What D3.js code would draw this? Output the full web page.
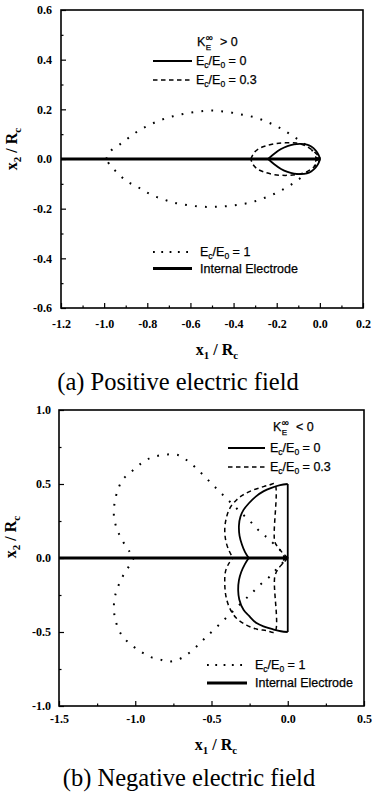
<!DOCTYPE html>
<html>
<head>
<meta charset="utf-8">
<script src="https://cdn.jsdelivr.net/npm/d3@7"></script>
<style>
body { margin: 0; background: #fff; }
svg { display: block; }
.tick line { stroke: #000; stroke-width: 1.2; }
.leg { font-family: "Liberation Sans", Arial, sans-serif; font-size: 12.5px; fill: #000; stroke: #000; stroke-width: 0.25; white-space: pre; }
.ttl { font-family: "Liberation Serif", "Times New Roman", serif; font-weight: bold; font-size: 16px; fill: #000; white-space: pre; }
.cap { font-family: "Liberation Serif", "Times New Roman", serif; font-size: 24.5px; fill: #000; }
</style>
</head>
<body>
<div id="chart"></div>
<script>
// ---- axis ticks ----
const xTicksA = [-1.2, -1.0, -0.8, -0.6, -0.4, -0.2, 0.0, 0.2];
const xMinorA = [-1.1, -0.9, -0.7, -0.5, -0.3, -0.1, 0.1];
const yTicksA = [-0.6, -0.4, -0.2, 0.0, 0.2, 0.4, 0.6];
const yMinorA = [-0.5, -0.3, -0.1, 0.1, 0.3, 0.5];
const xTicksB = [-1.5, -1.0, -0.5, 0.0, 0.5];
const xMinorB = [-1.25, -0.75, -0.25, 0.25];
const yTicksB = [-1.0, -0.5, 0.0, 0.5, 1.0];
const yMinorB = [-0.75, -0.25, 0.25, 0.75];

// ---- (a) positive field, K > 0 ----
const electrodeA = [[-1.2, 0], [0, 0]];
const posSolid = [[-0.24, 0], [-0.21, 0.022], [-0.18, 0.04], [-0.15, 0.052], [-0.12, 0.059], [-0.09, 0.061],
  [-0.06, 0.058], [-0.04, 0.05], [-0.02, 0.035], [-0.006, 0.017], [0, 0], [-0.006, -0.017], [-0.02, -0.035],
  [-0.04, -0.05], [-0.06, -0.058], [-0.09, -0.061], [-0.12, -0.059], [-0.15, -0.052], [-0.18, -0.04],
  [-0.21, -0.022], [-0.24, 0]];
const posDashed = [[-0.32, 0], [-0.305, 0.025], [-0.28, 0.043], [-0.25, 0.053], [-0.21, 0.061], [-0.16, 0.065],
  [-0.11, 0.064], [-0.075, 0.056], [-0.045, 0.042], [-0.02, 0.024], [0, 0], [-0.02, -0.026], [-0.04, -0.04],
  [-0.07, -0.055], [-0.11, -0.063], [-0.16, -0.066], [-0.21, -0.063], [-0.26, -0.052], [-0.29, -0.04],
  [-0.31, -0.022], [-0.32, 0]];
const posDotted = [[-0.99, 0], [-0.974, 0.029], [-0.927, 0.059], [-0.884, 0.087], [-0.842, 0.113], [-0.8, 0.133],
  [-0.757, 0.15], [-0.714, 0.164], [-0.672, 0.174], [-0.63, 0.182], [-0.587, 0.188], [-0.541, 0.193],
  [-0.502, 0.195], [-0.464, 0.193], [-0.417, 0.188], [-0.375, 0.181], [-0.332, 0.174], [-0.289, 0.164],
  [-0.247, 0.15], [-0.205, 0.134], [-0.162, 0.113], [-0.121, 0.09], [-0.08, 0.066], [-0.04, 0.038], [0, 0],
  [-0.04, -0.04], [-0.08, -0.07], [-0.124, -0.098], [-0.17, -0.122], [-0.21, -0.14], [-0.255, -0.156],
  [-0.3, -0.17], [-0.343, -0.179], [-0.386, -0.185], [-0.43, -0.19], [-0.47, -0.192], [-0.51, -0.193],
  [-0.552, -0.192], [-0.595, -0.188], [-0.638, -0.182], [-0.68, -0.175], [-0.72, -0.164], [-0.765, -0.15],
  [-0.807, -0.132], [-0.85, -0.11], [-0.896, -0.089], [-0.935, -0.058], [-0.974, -0.024], [-0.99, 0]];

// ---- (b) negative field, K < 0 ----
const electrodeB = [[-1.5, 0], [0, 0]];
const negSolidUpper = [[-0.256, 0], [-0.28, 0.04], [-0.3, 0.09], [-0.316, 0.15], [-0.32, 0.22], [-0.31, 0.28],
  [-0.29, 0.325], [-0.255, 0.37], [-0.21, 0.415], [-0.16, 0.45], [-0.107, 0.474], [-0.05, 0.492], [0, 0.5]];
const negSolidLower = [[-0.256, 0], [-0.28, -0.04], [-0.305, -0.095], [-0.32, -0.15], [-0.325, -0.22],
  [-0.318, -0.28], [-0.29, -0.35], [-0.255, -0.39], [-0.205, -0.44], [-0.15, -0.465], [-0.096, -0.482],
  [-0.045, -0.495], [0, -0.5]];
const negSolidEdge = [[0, 0.5], [0, -0.5]];
const negDashedUpper = [[0, 0], [-0.03, 0.03], [-0.06, 0.068], [-0.085, 0.11], [-0.085, 0.5], [-0.118, 0.495],
  [-0.172, 0.478], [-0.238, 0.455], [-0.293, 0.426], [-0.336, 0.392], [-0.38, 0.336], [-0.405, 0.26],
  [-0.413, 0.19], [-0.405, 0.11], [-0.385, 0.05], [-0.36, 0]];
const negDashedLower = [[0, 0], [-0.03, -0.035], [-0.06, -0.07], [-0.085, -0.126], [-0.085, -0.5], [-0.14, -0.49],
  [-0.205, -0.48], [-0.271, -0.453], [-0.336, -0.407], [-0.38, -0.34], [-0.405, -0.26], [-0.413, -0.17],
  [-0.408, -0.09], [-0.385, -0.035], [-0.36, 0]];
const negDottedUpper = [[0, 0], [-0.118, 0.122], [-0.184, 0.18], [-0.238, 0.239], [-0.3, 0.3], [-0.36, 0.36],
  [-0.413, 0.414], [-0.468, 0.47], [-0.533, 0.538], [-0.599, 0.606], [-0.664, 0.662], [-0.72, 0.696],
  [-0.785, 0.7], [-0.85, 0.691], [-0.905, 0.674], [-0.96, 0.64], [-1.025, 0.583], [-1.08, 0.532],
  [-1.113, 0.464], [-1.134, 0.38], [-1.141, 0.313], [-1.134, 0.245], [-1.113, 0.178], [-1.08, 0.11],
  [-1.04, 0.047], [-1.01, 0]];
const negDottedLower = [[-1.01, 0], [-1.04, -0.054], [-1.08, -0.12], [-1.115, -0.2], [-1.135, -0.27],
  [-1.14, -0.34], [-1.13, -0.42], [-1.09, -0.52], [-1.025, -0.588], [-0.96, -0.635], [-0.905, -0.667],
  [-0.84, -0.685], [-0.785, -0.7], [-0.726, -0.689], [-0.664, -0.655], [-0.6, -0.6], [-0.544, -0.543],
  [-0.48, -0.48], [-0.41, -0.41], [-0.35, -0.35], [-0.29, -0.29], [-0.238, -0.239], [-0.18, -0.18],
  [-0.118, -0.126], [-0.06, -0.06], [0, 0]];

const styles = {
  solid: { w: 1.8, dash: null },
  dashed: { w: 1.5, dash: '4.5,3.5' },
  dotted: { w: 2, dash: '1.8,8.2' },
  electrode: { w: 3.2, dash: null }
};

const svg = d3.select('#chart').append('svg').attr('width', 373).attr('height', 795);

svg.append('defs').append('marker')
  .attr('id', 'arr').attr('viewBox', '0 0 10 10').attr('refX', 8).attr('refY', 5)
  .attr('markerUnits', 'userSpaceOnUse').attr('markerWidth', 7).attr('markerHeight', 6)
  .attr('orient', 'auto')
  .append('path').attr('d', 'M0,0L10,5L0,10z').attr('fill', '#000');

function rich(g, x, y, parts, size, cls) {
  const t = g.append('text').attr('class', cls).attr('x', x).attr('y', y);
  let shift = 0;
  parts.forEach(([s, sub]) => {
    const target = sub ? size * 0.25 : 0;
    t.append('tspan').attr('dy', target - shift).style('font-size', (sub ? size * 0.68 : size) + 'px').text(s);
    shift = target;
  });
  return t;
}

function kLabel(g, x, y, rest) {
  const k = g.append('text').attr('class', 'leg').attr('x', x).attr('y', y).text('K');
  const w = k.node().getComputedTextLength();
  g.append('text').attr('class', 'leg').attr('x', x + w + 0.5).attr('y', y + 3.5).style('font-size', '8px').text('E');
  g.append('text').attr('class', 'leg').attr('x', x + w + 0.5).attr('y', y - 5).style('font-size', '10px').text('∞');
  g.append('text').attr('class', 'leg').attr('x', x + 23).attr('y', y).text(rest);
}

function drawPanel(p) {
  const x = d3.scaleLinear().domain(p.xDomain).range([p.l, p.r]);
  const y = d3.scaleLinear().domain(p.yDomain).range([p.b, p.t]);
  const g = svg.append('g');

  // minor ticks
  g.append('g').attr('transform', `translate(0,${p.b})`)
    .call(d3.axisBottom(x).tickValues(p.xMinor).tickSize(-2.5).tickSizeOuter(0).tickFormat(''))
    .call(a => a.select('.domain').remove());
  g.append('g').attr('transform', `translate(${p.l},0)`)
    .call(d3.axisLeft(y).tickValues(p.yMinor).tickSize(-2.5).tickSizeOuter(0).tickFormat(''))
    .call(a => a.select('.domain').remove());
  // major ticks
  const xa = g.append('g').attr('transform', `translate(0,${p.b})`)
    .call(d3.axisBottom(x).tickValues(p.xTicks).tickSize(-5).tickSizeOuter(0).tickPadding(p.xPad)
      .tickFormat(d => d.toFixed(1)))
    .call(a => a.select('.domain').remove());
  const ya = g.append('g').attr('transform', `translate(${p.l},0)`)
    .call(d3.axisLeft(y).tickValues(p.yTicks).tickSize(-5).tickSizeOuter(0).tickPadding(p.yPad)
      .tickFormat(d => d.toFixed(1)))
    .call(a => a.select('.domain').remove());
  [xa, ya].forEach(a => a.selectAll('text')
    .style('font-family', '"Liberation Serif", "Times New Roman", serif')
    .style('font-weight', 'bold').style('font-size', '12px').attr('fill', '#000'));

  g.append('rect').attr('x', p.l).attr('y', p.t).attr('width', p.r - p.l).attr('height', p.b - p.t)
    .attr('fill', 'none').attr('stroke', '#000').attr('stroke-width', 1.6);

  const line = d3.line().x(d => x(d[0])).y(d => y(d[1])).curve(d3.curveCatmullRom.alpha(0.5));
  const straight = d3.line().x(d => x(d[0])).y(d => y(d[1]));
  p.curves.forEach(c => {
    const s = styles[c.style];
    const path = g.append('path').datum(c.data).attr('d', c.style === 'electrode' ? straight : line)
      .attr('fill', 'none').attr('stroke', '#000').attr('stroke-width', s.w)
      .attr('stroke-dasharray', s.dash).attr('stroke-linejoin', 'round');
    if (c.style === 'electrode') path.attr('marker-end', 'url(#arr)');
  });

  // legend
  kLabel(g, p.kx, p.ky, p.sign + ' 0');
  p.legend.forEach(it => {
    const s = styles[it.style];
    g.append('line').attr('x1', it.x1).attr('x2', it.x2).attr('y1', it.y).attr('y2', it.y)
      .attr('stroke', '#000').attr('stroke-width', s.w).attr('stroke-dasharray', it.style === 'dotted' ? '1.8,6.5' : s.dash);
    if (it.label === 'Internal Electrode') {
      g.append('text').attr('class', 'leg').attr('x', it.tx).attr('y', it.y + 4.3).text(it.label);
    } else {
      rich(g, it.tx, it.y + 4.3, [['E', 0], ['c', 1], ['/E', 0], ['0', 1], [' = ' + it.label, 0]], 12.5, 'leg');
    }
  });

  // axis titles and caption
  rich(g, p.xtx, p.xty, [['x', 0], ['1', 1], [' / R', 0], ['c', 1]], 16, 'ttl').attr('text-anchor', 'middle');
  rich(g, 0, 0, [['x', 0], ['2', 1], [' / R', 0], ['c', 1]], 16, 'ttl').attr('text-anchor', 'middle')
    .attr('transform', `translate(${p.ytx},${p.yty}) rotate(-90)`);
  g.append('text').attr('class', 'cap').attr('x', p.capx).attr('y', p.capy).attr('text-anchor', 'middle').text(p.caption);
}

drawPanel({
  xDomain: [-1.2, 0.2], yDomain: [-0.6, 0.6], l: 61, r: 363, t: 10, b: 308,
  xTicks: xTicksA, xMinor: xMinorA, yTicks: yTicksA, yMinor: yMinorA, xPad: 11, yPad: 9,
  curves: [
    { data: posDotted, style: 'dotted' },
    { data: posDashed, style: 'dashed' },
    { data: posSolid, style: 'solid' },
    { data: electrodeA, style: 'electrode' }
  ],
  kx: 197, ky: 46, sign: '>',
  legend: [
    { style: 'solid', x1: 153, x2: 192, y: 61, tx: 196, label: '0' },
    { style: 'dashed', x1: 153, x2: 192, y: 80, tx: 196, label: '0.3' },
    { style: 'dotted', x1: 153, x2: 192, y: 252, tx: 200, label: '1' },
    { style: 'electrode', x1: 153, x2: 192, y: 268.5, tx: 200, label: 'Internal Electrode' }
  ],
  xtx: 217, xty: 355, ytx: 17, yty: 149,
  capx: 178, capy: 390, caption: '(a) Positive electric field'
});

drawPanel({
  xDomain: [-1.5, 0.5], yDomain: [-1.0, 1.0], l: 59, r: 364, t: 410, b: 706,
  xTicks: xTicksB, xMinor: xMinorB, yTicks: yTicksB, yMinor: yMinorB, xPad: 8, yPad: 8,
  curves: [
    { data: negDottedUpper, style: 'dotted' },
    { data: negDottedLower, style: 'dotted' },
    { data: negDashedUpper, style: 'dashed' },
    { data: negDashedLower, style: 'dashed' },
    { data: negSolidUpper, style: 'solid' },
    { data: negSolidLower, style: 'solid' },
    { data: negSolidEdge, style: 'solid' },
    { data: electrodeB, style: 'electrode' }
  ],
  kx: 273, ky: 431, sign: '<',
  legend: [
    { style: 'solid', x1: 228, x2: 265, y: 448, tx: 270, label: '0' },
    { style: 'dashed', x1: 228, x2: 265, y: 467, tx: 270, label: '0.3' },
    { style: 'dotted', x1: 207, x2: 247, y: 665, tx: 255, label: '1' },
    { style: 'electrode', x1: 207, x2: 247, y: 683, tx: 255, label: 'Internal Electrode' }
  ],
  xtx: 216, xty: 750, ytx: 16, yty: 537,
  capx: 189, capy: 786, caption: '(b) Negative electric field'
});
</script>
</body>
</html>
